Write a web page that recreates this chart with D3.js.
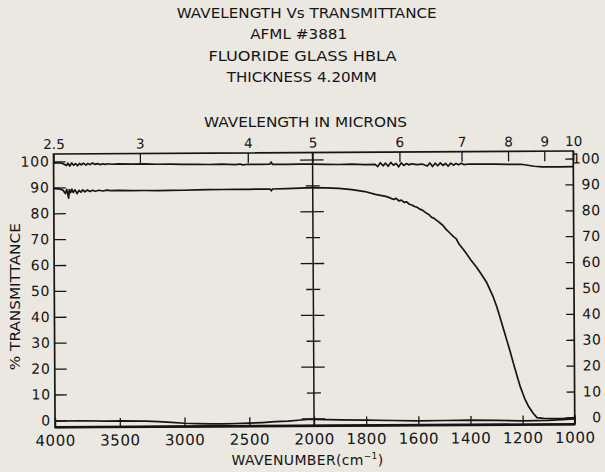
<!DOCTYPE html>
<html><head><meta charset="utf-8">
<script src="https://cdn.jsdelivr.net/npm/d3@7"></script>
<style>
html,body{margin:0;padding:0;background:#ebe8e2;}
svg{display:block;}
text{font-family:"DejaVu Sans",sans-serif;fill:#151515;}
</style></head>
<body>
<svg id="chart" width="605" height="472"></svg>
<script>
// ---------- data ----------
const titleLines = ["WAVELENGTH Vs TRANSMITTANCE", "AFML #3881", "FLUORIDE GLASS HBLA", "THICKNESS 4.20MM"];
const topAxisTitle = "WAVELENGTH IN MICRONS";
const yAxisTitle = "% TRANSMITTANCE";
const microns = [2.5, 3, 4, 5, 6, 7, 8, 9, 10];
const micronLabels = ["2.5", "3", "4", "5", "6", "7", "8", "9", "10"];
const wavenumberTicks = [4000, 3500, 3000, 2500, 2000, 1800, 1600, 1400, 1200, 1000];
const percentTicks = [0, 10, 20, 30, 40, 50, 60, 70, 80, 90, 100];

// 100% reference line [wavenumber cm-1, %T]
const line100 = [
  [4000,99.4],[3960,99.5],[3930,99.2],[3900,98.4],[3890,99.3],[3875,98.2],[3860,99.4],[3845,98.5],
  [3830,99.1],[3815,98.3],[3800,99.2],[3785,98.6],[3770,99.3],[3750,98.5],[3735,99.2],[3720,98.7],
  [3700,99.3],[3680,98.8],[3660,99.1],[3640,98.7],[3620,99.0],[3600,98.8],[3580,99.0],[3550,98.8],
  [3500,98.9],[3400,98.8],[3300,98.9],[3200,98.7],[3100,98.7],[3000,98.6],[2900,98.6],[2800,98.5],
  [2700,98.6],[2600,98.4],[2560,98.6],[2540,98.3],[2500,98.5],[2400,98.4],[2330,98.5],[2320,99.3],
  [2310,98.4],[2200,98.4],[2100,98.4],[2000,98.4],
  [1950,98.3],[1900,98.2],[1850,98.3],[1800,98.1],[1760,98.2],[1750,97.3],[1740,98.8],[1730,97.6],
  [1720,98.6],[1710,97.4],[1700,98.9],[1690,97.8],[1680,98.5],[1670,97.2],[1660,98.7],[1650,97.7],
  [1640,98.4],[1630,97.9],[1620,98.3],[1600,98.0],[1580,98.2],[1560,97.4],[1550,98.6],[1540,97.2],
  [1530,98.5],[1520,97.5],[1510,98.6],[1500,97.6],[1490,98.4],[1480,97.3],[1470,98.5],[1460,97.7],
  [1450,98.3],[1440,97.8],[1430,98.4],[1420,97.9],[1400,98.1],[1350,98.0],[1300,98.0],[1250,97.9],
  [1200,97.9],[1150,97.1],[1120,96.8],[1100,96.8],[1050,96.8],[1000,96.9]
];

// sample transmittance (fluoride glass HBLA, 4.20 mm)
const sampleT = [
  [4000,89.5],[3960,89.4],[3930,89.0],[3910,87.6],[3900,89.2],[3885,85.8],[3880,89.1],[3870,87.9],
  [3860,89.3],[3850,88.0],[3835,89.0],[3820,87.5],[3805,88.8],[3790,88.1],[3775,89.0],[3760,88.2],
  [3740,88.9],[3720,88.3],[3700,88.8],[3680,88.4],[3650,88.8],[3620,88.5],[3590,88.8],[3560,88.6],
  [3500,88.7],[3400,88.6],[3300,88.6],[3200,88.5],[3100,88.6],[3000,88.6],[2900,88.7],[2800,88.8],
  [2700,88.8],[2600,88.8],[2500,88.8],[2400,88.9],[2330,88.9],[2320,88.2],[2310,88.9],[2200,89.0],
  [2100,89.2],[2000,89.3],
  [1950,89.2],[1900,89.0],[1850,88.5],[1800,87.7],[1760,86.6],[1720,85.8],[1706,85.3],[1690,84.6],
  [1680,85.0],[1670,84.0],[1660,84.3],[1650,83.4],[1640,83.6],[1630,82.7],[1620,82.4],[1610,81.8],
  [1600,81.5],[1590,80.8],[1580,80.4],[1566,79.3],[1555,78.7],[1545,77.6],[1535,77.2],[1520,76.0],
  [1502,74.5],[1490,73.0],[1475,71.5],[1460,70.0],[1451,69.3],[1440,67.2],[1425,65.3],[1412,63.5],
  [1395,61.0],[1374,58.3],[1355,55.5],[1336,52.5],[1320,49.0],[1310,46.7],[1297,43.0],[1285,39.0],
  [1272,34.5],[1259,30.0],[1246,25.5],[1234,21.0],[1220,16.0],[1208,11.9],[1192,7.5],[1176,4.2],
  [1160,1.8],[1145,0.0],[1120,-0.3],[1080,-0.4],[1040,-0.3],[1000,-0.1]
];

// 0% line
const line0 = [
  [4000,-0.3],[3800,-0.2],[3600,-0.4],[3500,-0.3],[3300,-0.5],[3200,-0.7],[3100,-1.0],[3000,-1.4],
  [2900,-1.6],[2800,-1.7],[2700,-1.7],[2600,-1.6],[2500,-1.5],[2400,-1.3],[2300,-1.0],[2200,-0.8],
  [2100,-0.4],[2050,-0.2],[2000,-0.2],[1900,-0.4],[1800,-0.6],[1700,-0.8],[1600,-1.0],[1500,-0.9],
  [1400,-0.8],[1300,-1.0],[1200,-1.2],[1100,-1.1],[1000,-0.6]
];

// ---------- drawing ----------
const svg = d3.select("#chart");
const ink = "#151515";
svg.append("rect").attr("width",605).attr("height",472).attr("fill","#ebe8e2");

const L = 54.3, R = 574, T = 152.5, B = 425.8;
const x = d3.scaleLinear().domain([4000, 2000, 1000]).range([L, 313.3, R]);
const y = d3.scaleLinear().domain([0, 100]).range([418.9, 160]);

// titles
const titleY = [18.3, 39.3, 60.7, 81.7], titleX = [306.7, 298.7, 302.5, 301.7], titleW = [260, 97, 188, 150];
svg.selectAll("text.title").data(titleLines).join("text")
  .attr("class","title")
  .attr("x",(d,i)=>titleX[i]).attr("y",(d,i)=>titleY[i])
  .attr("text-anchor","middle").attr("font-size",14)
  .attr("textLength",(d,i)=>titleW[i]).attr("lengthAdjust","spacingAndGlyphs")
  .text(d=>d);

svg.append("text").attr("x",305.5).attr("y",126.7).attr("text-anchor","middle")
  .attr("font-size",14).attr("textLength",203).attr("lengthAdjust","spacingAndGlyphs")
  .text(topAxisTitle);

svg.append("text").attr("transform","translate(20,296.7) rotate(-90)").attr("text-anchor","middle")
  .attr("font-size",14).attr("textLength",147).attr("lengthAdjust","spacingAndGlyphs")
  .text(yAxisTitle);

const xt = svg.append("text").attr("x",307.5).attr("y",465).attr("text-anchor","middle").attr("font-size",14);
xt.append("tspan").text("WAVENUMBER(cm");
xt.append("tspan").attr("font-size",9).attr("dy",-6).text("−1");
xt.append("tspan").attr("dy",6).text(")");
{
  const w = xt.node().getComputedTextLength();
  const n = "WAVENUMBER(cm−1)".length;
  xt.attr("letter-spacing", ((152 - w) / n).toFixed(2));
}

// plot group, slightly rotated like the scanned original
const g = svg.append("g").attr("transform","rotate(-0.33,314,289)");

function styleAxis(sel, size){
  sel.select(".domain").remove();
  sel.selectAll(".tick line").attr("stroke",ink).attr("stroke-width",1.3);
  sel.selectAll(".tick text").attr("fill",ink).attr("font-family","DejaVu Sans").attr("font-size",size);
}

// bottom axis
const gb = g.append("g").attr("transform",`translate(0,${B})`)
  .call(d3.axisBottom(x).tickValues(wavenumberTicks).tickFormat(d3.format("d")).tickSize(-9).tickPadding(6));
styleAxis(gb, 15);
gb.selectAll(".tick text").attr("letter-spacing",0.6).attr("y",18.5).attr("dy",0);

// top axis
const gt = g.append("g").attr("transform",`translate(0,${T})`)
  .call(d3.axisTop(x).tickValues(microns.map(m=>10000/m)).tickFormat((d,i)=>micronLabels[i]).tickSize(-10).tickPadding(5));
styleAxis(gt, 13.5);

// left axis
const gl = g.append("g").attr("transform",`translate(${L},0)`)
  .call(d3.axisLeft(y).tickValues(percentTicks).tickSize(-12).tickPadding(4));
styleAxis(gl, 14);
gl.selectAll(".tick text").attr("letter-spacing",0.8);

// right axis
const gr = g.append("g").attr("transform",`translate(${R},0)`)
  .call(d3.axisRight(y).tickValues(percentTicks).tickSize(-8).tickPadding(27));
styleAxis(gr, 14);
gr.selectAll(".tick text").attr("text-anchor","end").attr("letter-spacing",0.5);

// frame
g.append("rect").attr("x",L).attr("y",T).attr("width",R-L).attr("height",B-T)
  .attr("fill","none").attr("stroke",ink).attr("stroke-width",1.7);
g.append("line").attr("x1",L).attr("x2",R).attr("y1",B).attr("y2",B).attr("stroke",ink).attr("stroke-width",2.6);

// scale-change line at 2000 cm-1 with crosses
const xm = x(2000);
g.append("line").attr("x1",xm).attr("x2",xm).attr("y1",T).attr("y2",B).attr("stroke",ink).attr("stroke-width",1.5);
g.selectAll("line.cross").data(percentTicks).join("line").attr("class","cross")
  .attr("x1",d=> xm - (d % 20 === 0 ? 12.5 : 7)).attr("x2",d=> xm + (d % 20 === 0 ? 11 : 7))
  .attr("y1",d=>y(d)).attr("y2",d=>y(d)).attr("stroke",ink).attr("stroke-width",1.3);

// curves
const lineGen = d3.line().x(d=>x(d[0])).y(d=>y(d[1]));
[line100, sampleT, line0].forEach(s=>{
  g.append("path").datum(s).attr("d",lineGen).attr("fill","none")
    .attr("stroke",ink).attr("stroke-width",1.7).attr("stroke-linejoin","round");
});
</script>
</body></html>
